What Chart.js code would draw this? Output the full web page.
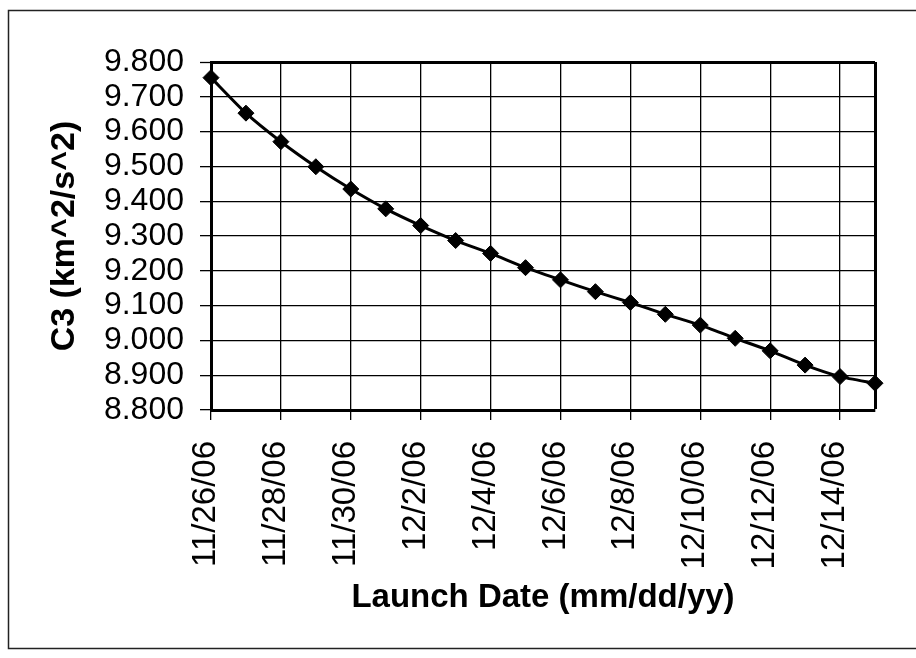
<!DOCTYPE html>
<html lang="en">
<head>
  <meta charset="UTF-8" />
  <title>C3 vs Launch Date</title>
  <script src="https://cdn.jsdelivr.net/npm/chart.js"></script>
  <style>
    html, body {
      margin: 0;
      padding: 0;
      background: #fff;
    }
    .wrap {
      width: 916px;
      height: 658px;
      position: relative;
    }
  </style>
</head>
<body>
  <div class="wrap">
    <canvas id="c3Chart" width="916" height="658"></canvas>
  </div>

  <script>
    // launch dates, one per day
    const launchDates = [
      '11/26/06', '11/27/06', '11/28/06', '11/29/06', '11/30/06',
      '12/1/06', '12/2/06', '12/3/06', '12/4/06', '12/5/06',
      '12/6/06', '12/7/06', '12/8/06', '12/9/06', '12/10/06',
      '12/11/06', '12/12/06', '12/13/06', '12/14/06', '12/15/06'
    ];

    // C3 values (km^2/s^2)
    const c3Values = [
      9.755, 9.653, 9.571, 9.499, 9.435,
      9.378, 9.330, 9.287, 9.250, 9.209,
      9.174, 9.140, 9.109, 9.075, 9.044,
      9.006, 8.970, 8.929, 8.896, 8.877
    ];

    const yMin = 8.8;
    const yMax = 9.8;
    const yStep = 0.1;

    const FONT = "'Liberation Sans', Arial, sans-serif";
    const lastIdx = launchDates.length - 1;

    // thin outer frame around the whole figure
    const framePlugin = {
      id: 'frame',
      beforeDraw(chart) {
        const ctx = chart.ctx;
        ctx.save();
        ctx.strokeStyle = '#222';
        ctx.lineWidth = 1.5;
        ctx.strokeRect(8.5, 10.5, 1000, 638);
        ctx.restore();
      }
    };

    const ctx = document.getElementById('c3Chart').getContext('2d');
    new Chart(ctx, {
      type: 'line',
      data: {
        labels: launchDates,
        datasets: [{
          data: c3Values,
          borderColor: '#000',
          borderWidth: 3,
          backgroundColor: '#000',
          pointStyle: 'rectRot',
          pointRadius: 8,
          pointBorderWidth: 1,
          tension: 0.2,
          fill: false,
          clip: false
        }]
      },
      options: {
        responsive: false,
        animation: false,
        layout: {
          padding: { top: 62, right: 41, bottom: 40, left: 44 }
        },
        plugins: {
          legend: { display: false },
          tooltip: { enabled: false }
        },
        scales: {
          x: {
            offset: false,
            afterFit(scale) {
              scale.height = 208;
              scale.paddingLeft = 0;
              scale.paddingRight = 0;
            },
            border: { display: true, color: '#000', width: 3 },
            grid: {
              drawTicks: true,
              tickLength: 10,
              color: c => (c.index % 2 === 0 || c.index === lastIdx) ? '#000' : 'rgba(0,0,0,0)',
              tickColor: c => (c.index % 2 === 0 && c.index !== lastIdx) ? '#000' : 'rgba(0,0,0,0)',
              lineWidth: c => c.index === lastIdx ? 3 : 1.3,
              tickWidth: 1.3
            },
            ticks: {
              autoSkip: false,
              minRotation: 90,
              maxRotation: 90,
              padding: 21,
              labelOffset: -5,
              color: '#000',
              font: { family: FONT, size: 33 },
              callback: (v, i) => (i % 2 === 0 && i !== lastIdx) ? launchDates[i] : ''
            },
            title: {
              display: true,
              text: 'Launch Date (mm/dd/yy)',
              color: '#000',
              font: { family: FONT, size: 33, weight: 'bold' },
              padding: { top: 2, bottom: 0 }
            }
          },
          y: {
            min: yMin,
            max: yMax,
            afterFit(scale) { scale.width = 167; },
            border: { display: true, color: '#000', width: 3 },
            grid: {
              tickLength: 11,
              color: '#000',
              lineWidth: c => Math.abs(c.tick.value - yMax) < 1e-6 ? 3 : 1.3,
              tickWidth: 1.3
            },
            ticks: {
              stepSize: yStep,
              autoSkip: false,
              padding: 16,
              color: '#000',
              font: { family: FONT, size: 32 },
              callback: v => Number(v).toFixed(3)
            },
            title: {
              display: true,
              text: 'C3 (km^2/s^2)',
              color: '#000',
              font: { family: FONT, size: 34, weight: 'bold' },
              padding: { top: 0, bottom: 0 }
            }
          }
        }
      },
      plugins: [framePlugin]
    });
  </script>
</body>
</html>
